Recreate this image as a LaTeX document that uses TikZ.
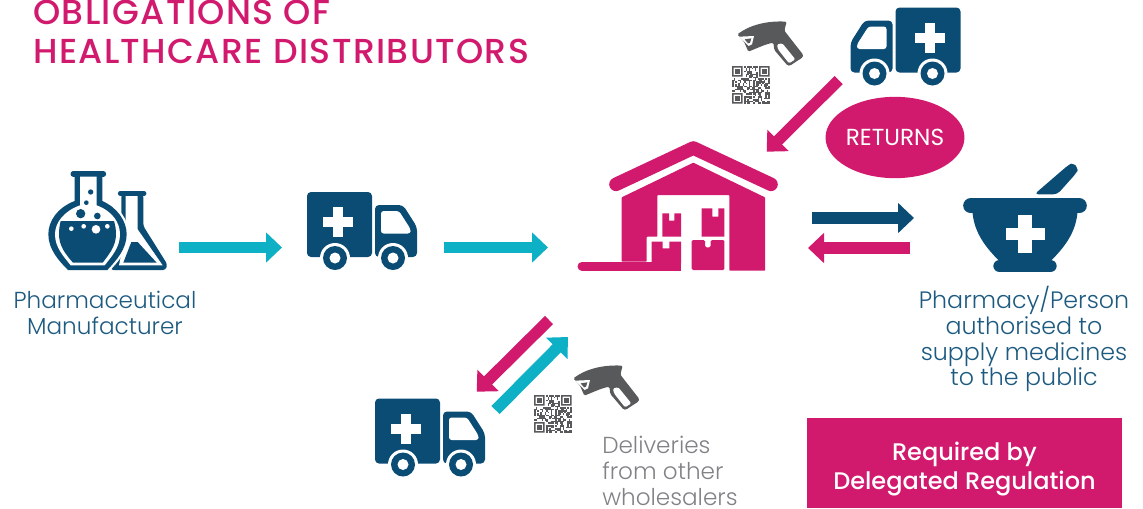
\documentclass[tikz,border=0pt]{standalone}
\usepackage{fontspec}
\setmainfont{Poppins}
\newfontfamily\titlefont[LetterSpace=4]{Poppins Medium}
\newfontfamily\lightfont{Poppins Light}
\newfontfamily\medfont{Poppins Medium}
\usetikzlibrary{arrows.meta,shapes.geometric}
\definecolor{pinkc}{HTML}{D11A6E}
\definecolor{navyc}{HTML}{0B4C75}
\definecolor{tealc}{HTML}{0DB0C4}
\definecolor{scang}{HTML}{58595B}
\definecolor{labelg}{HTML}{808285}
\definecolor{labeln}{HTML}{1D5A80}
\tikzset{
  blockarrow/.style={line width=8.6pt,-{Triangle[length=12pt,width=22pt]}},
  lbl/.style={inner sep=0pt,align=center,font=\lightfont\fontsize{17.35pt}{19.4pt}\selectfont},
  lblb/.style={inner sep=0pt,align=center,font=\lightfont\fontsize{17.8pt}{19.4pt}\selectfont},
  ttl/.style={inner sep=0pt,align=left,anchor=north west,text=pinkc,font=\titlefont\fontsize{26pt}{29.25pt}\selectfont},
}
\newcommand\truckicon[3]{%
\begin{scope}[shift={(#1,#2)},xscale=#3]
  \fill[navyc,rounded corners=3pt] (0,0) rectangle (65,65);
  \fill[navyc,rounded corners=3pt] (68,65) -- (68,13) -- (96,13) -- (110,35) -- (110,65) -- cycle;
  \fill[white,rounded corners=2pt] (74,19) -- (92,19) -- (103.5,37) -- (103.5,41.5) -- (74,41.5) -- cycle;
  \fill[white] (16,25) rectangle (46,35);
  \fill[white] (26,15) rectangle (36,45);
  \foreach \wx in {28,86}{
    \fill[white] (\wx,66) circle (15);
    \fill[navyc] (\wx,66) circle (12);
    \fill[white] (\wx,66) circle (5.5);
  }
\end{scope}}
\newcommand\scannericon[2]{%
\begin{scope}[shift={(#1,#2)},x=0.25pt,y=-0.25pt]
  \fill[scang,rounded corners=1pt] (52,103) .. controls (90,75) and (140,62) .. (200,65) -- (193,92) -- (250,165) -- (248,172) -- (210,197) -- (203,197) -- (163,150) -- (160,128) .. controls (135,133) and (110,145) .. (85,155) -- (72,125) -- cycle;
  \fill[white] (58,110) -- (102,108) -- (96,133) -- (86,138) -- cycle;
  \fill[scang] (74,118) -- (94,115) -- (90,128) -- (84,130) -- cycle;
  \fill[white,rounded corners=1pt] (171,133) -- (187,130) -- (226,178) -- (207,190) -- (174,148) -- cycle;
\end{scope}}
\newcommand\qricon[2]{%
\begin{scope}[shift={(#1,#2)},x=1.13pt,y=-1.13pt,scang]
  \pgfmathsetseed{4217}
  \foreach \i in {0,...,24}{\foreach \j in {0,...,24}{
    \pgfmathrandominteger{\rr}{0}{99}
    \ifnum\rr<58
      \ifnum\i<8 \ifnum\j<8 \else\ifnum\j>16 \else \fill (\i,\j) rectangle ++(1,1);\fi\fi
      \else\ifnum\i>16 \ifnum\j<8 \else \fill (\i,\j) rectangle ++(1,1);\fi
      \else \fill (\i,\j) rectangle ++(1,1);\fi\fi
    \fi
  }}
  \foreach \fx/\fy in {0/0,18/0,0/18}{
    \fill[even odd rule] (\fx,\fy) rectangle ++(7,7) (\fx+1,\fy+1) rectangle ++(5,5);
    \fill (\fx+2,\fy+2) rectangle ++(3,3);
  }
\end{scope}}
\begin{document}
\begin{tikzpicture}[x=0.75pt,y=-0.75pt]
\useasboundingbox (0,0) rectangle (1143,508);

% flasks
\begin{scope}[shift={(44,166)},x=0.25pt,y=-0.25pt]
  \fill[navyc,rounded corners=2pt] (232,85) -- (298,85) -- (298,180) -- (370,295) -- (365,312) -- (200,312) -- (232,200) -- cycle;
  \draw[navyc,line width=3.7pt,line cap=round] (229,82.5) -- (300,82.5);
  \fill[white] (245,90) -- (281,90) -- (281,190) -- (356,298) -- (225,298) -- (245,200) -- cycle;
  \fill[navyc] (262,228) -- (281,228) -- (338,290) -- (238,290) -- cycle;
  \path[preaction={draw=white,line width=3.4pt},fill=navyc] (92,25) -- (92,105) .. controls (40,125) and (13,165) .. (13,205) .. controls (13,250) and (45,285) .. (72,312) -- (190,312) .. controls (215,285) and (248,250) .. (248,205) .. controls (248,165) and (220,125) .. (175,105) -- (175,25) -- cycle;
  \draw[navyc,line width=4.25pt,line cap=round] (88,23.5) -- (178,23.5);
  \fill[white] (108,32) -- (108,118) .. controls (60,135) and (33,170) .. (33,205) .. controls (33,245) and (60,272) .. (80,298) -- (182,298) .. controls (202,272) and (228,245) .. (228,205) .. controls (228,170) and (205,135) .. (158,118) -- (158,32) -- cycle;
  \fill[navyc] (50,165) -- (210,165) .. controls (214,178) and (216,190) .. (216,205) .. controls (216,240) and (195,265) .. (176,290) -- (87,290) .. controls (65,265) and (45,240) .. (45,205) .. controls (45,190) and (47,178) .. (50,165) -- cycle;
  \foreach \bx/\by/\br in {140/78/8,127/110/7,110/143/14,160/150/10}{\fill[navyc] (\bx,\by) circle (\br);}
  \foreach \bx/\by/\br in {82/188/7,119/181/7,156/190/13,190/181/7}{\fill[white] (\bx,\by) circle (\br);}
\end{scope}

\truckicon{307}{192}{1}
\truckicon{960.5}{7.5}{-1}
\truckicon{375}{398.5}{1}

% warehouse
\begin{scope}[shift={(570,130)},x=0.25pt,y=-0.25pt]
  \draw[pinkc,line width=10.2pt,line cap=round,line join=round] (138,163) -- (370,54) -- (603,163);
  \fill[pinkc,rounded corners=0.5pt] (155,202) -- (370,98) -- (585,202) -- (585,422) -- (478,422) -- (478,195) -- (262,195) -- (262,320) -- (230,320) -- (230,395) -- (155,395) -- cycle;
  \draw[pinkc,line width=6.75pt,line cap=round] (36,408.5) -- (100,408.5);
  \fill[pinkc] (60,395) rectangle (333,422);
  \fill[pinkc] (245,335) -- (278,335) -- (278,355) -- (298,355) -- (298,335) -- (333,335) -- (333,400) -- (245,400) -- cycle;
  \fill[pinkc] (277,250) -- (297,250) -- (297,272) -- (313,272) -- (313,250) -- (333,250) -- (333,320) -- (277,320) -- cycle;
  \fill[pinkc] (395,235) -- (427,235) -- (427,260) -- (445,260) -- (445,235) -- (463,235) -- (463,320) -- (395,320) -- cycle;
  \fill[pinkc,rounded corners=1pt] (365,330) -- (405,330) -- (405,352) -- (422,352) -- (422,330) -- (463,330) -- (463,420) -- (365,420) -- cycle;
\end{scope}

% mortar
\begin{scope}[shift={(940,150)},x=0.25pt,y=-0.25pt]
  \fill[navyc,rounded corners=3pt] (283,133) -- (385,45) -- (400,38) -- (415,55) -- (410,68) -- (352,133) -- cycle;
  \fill[navyc] (97,180) .. controls (100,240) and (130,285) .. (175,330) -- (335,330) .. controls (380,285) and (410,240) .. (413,180) -- cycle;
  \draw[navyc,line width=11.25pt,line cap=round] (92,167.5) -- (418,167.5);
  \draw[navyc,line width=9.5pt,line cap=round] (179,348) -- (331,348);
  \fill[white] (197,233) rectangle (314,271);
  \fill[white] (235,194) rectangle (275,310);
\end{scope}

\scannericon{720}{0}
\scannericon{556}{344}
\qricon{732}{66}
\qricon{534}{395}

% arrow ends
\coordinate (a1s) at (179,247.5);
\coordinate (a1e) at (282,247.5);
\coordinate (a2s) at (444,247.5);
\coordinate (a2e) at (548,247.5);
\coordinate (a3s) at (812,218);
\coordinate (a3e) at (914,218);
\coordinate (a4s) at (910,248);
\coordinate (a4e) at (808,248);
\coordinate (a5s) at (838.7,80);
\coordinate (a5e) at (766.7,151.7);
\coordinate (a6s) at (549,320);
\coordinate (a6e) at (476.7,391.7);
\coordinate (a7s) at (495.5,410);
\coordinate (a7e) at (568,337);
\draw[blockarrow,tealc] (a1s) -- (a1e);
\draw[blockarrow,tealc] (a2s) -- (a2e);
\draw[blockarrow,navyc] (a3s) -- (a3e);
\draw[blockarrow,pinkc] (a4s) -- (a4e);
\draw[blockarrow,pinkc] (a5s) -- (a5e);
\draw[blockarrow,pinkc] (a6s) -- (a6e);
\draw[blockarrow,tealc] (a7s) -- (a7e);

% text
\node[ttl] (title) at (33,0) {OBLIGATIONS OF\\HEALTHCARE DISTRIBUTORS};
\node[ellipse,fill=pinkc,text=white,inner sep=0pt,minimum width=97pt,minimum height=61pt,font=\fontsize{17.4pt}{19pt}\selectfont] (returns) at (895,137.5) {RETURNS};
\node[lbl,text=labeln] (manu) at (105,313) {Pharmaceutical\\Manufacturer};
\node[lblb,text=labeln] (pharm) at (1024,339) {Pharmacy/Person\\authorised to\\supply medicines\\to the public};
\node[lbl,text=labelg,align=left,anchor=west] (deliv) at (602,471) {Deliveries\\from other\\wholesalers};
\node[rectangle,fill=pinkc,text=white,inner sep=0pt,align=center,minimum width=236.25pt,minimum height=67.5pt,font=\medfont\fontsize{18pt}{21.75pt}\selectfont,text depth=0pt] (req) at (964.5,463) {\raisebox{-3.5pt}{Required by}\\\raisebox{-3.5pt}{Delegated Regulation}};
\end{tikzpicture}
\end{document}
